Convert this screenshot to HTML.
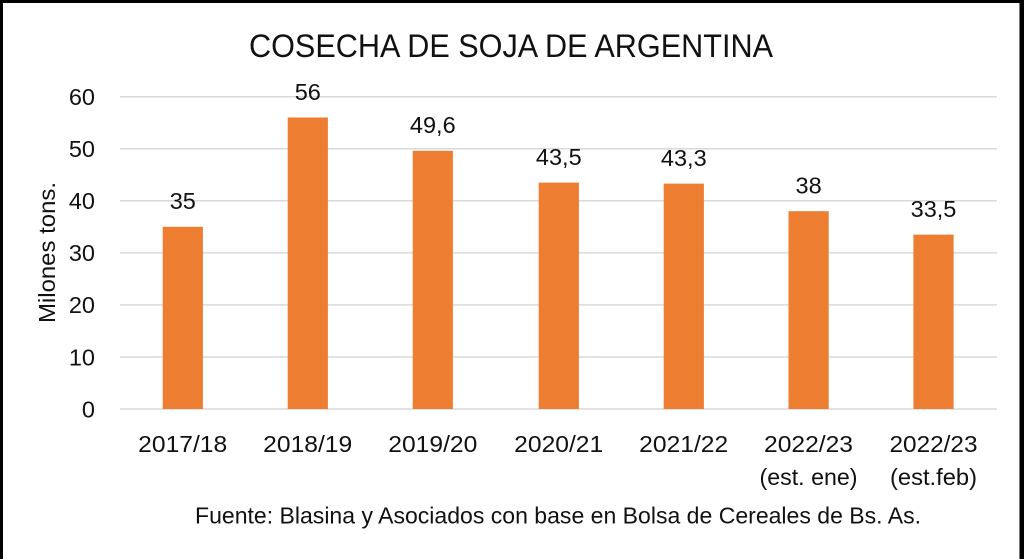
<!DOCTYPE html>
<html>
<head>
<meta charset="utf-8">
<style>
  html, body { margin: 0; padding: 0; background: #fff; }
  body { width: 1024px; height: 559px; overflow: hidden; }
  svg { display: block; }
  text { font-family: "Liberation Sans", Arial, sans-serif; fill: #111; }
</style>
</head>
<body>
<svg width="1024" height="559" viewBox="0 0 1024 559" xmlns="http://www.w3.org/2000/svg">
  <rect x="0" y="0" width="1024" height="559" fill="#fff"/>
  <!-- border -->
  <rect x="0" y="0" width="1024" height="3" fill="#000"/>
  <rect x="0" y="0" width="3" height="559" fill="#000"/>
  <rect x="1020" y="0" width="4" height="559" fill="#000"/>
  <rect x="1019" y="3" width="1" height="556" fill="#777"/>

  <!-- title -->
  <text x="511" y="57" font-size="32" text-anchor="middle" textLength="524" lengthAdjust="spacingAndGlyphs">COSECHA DE SOJA DE ARGENTINA</text>

  <!-- gridlines -->
  <g stroke="#d9d9d9" stroke-width="1.5">
    <line x1="120" y1="96.7" x2="997" y2="96.7"/>
    <line x1="120" y1="148.8" x2="997" y2="148.8"/>
    <line x1="120" y1="200.8" x2="997" y2="200.8"/>
    <line x1="120" y1="252.9" x2="997" y2="252.9"/>
    <line x1="120" y1="304.9" x2="997" y2="304.9"/>
    <line x1="120" y1="357" x2="997" y2="357"/>
    <line x1="120" y1="409" x2="997" y2="409"/>
  </g>

  <!-- y tick labels -->
  <g font-size="23.5" text-anchor="end">
    <text x="95" y="105">60</text>
    <text x="95" y="157.1">50</text>
    <text x="95" y="209.1">40</text>
    <text x="95" y="261.2">30</text>
    <text x="95" y="313.2">20</text>
    <text x="95" y="365.3">10</text>
    <text x="95" y="417.3">0</text>
  </g>

  <!-- y axis title -->
  <text transform="translate(55,252.5) rotate(-90)" font-size="23" text-anchor="middle" textLength="141" lengthAdjust="spacingAndGlyphs">Milones tons.</text>

  <!-- bars -->
  <g fill="#ED7D31">
    <rect x="162.7" y="226.8" width="40.2" height="182.2"/>
    <rect x="287.7" y="117.5" width="40.2" height="291.5"/>
    <rect x="412.7" y="150.8" width="40.2" height="258.2"/>
    <rect x="538.7" y="182.6" width="40.2" height="226.4"/>
    <rect x="663.7" y="183.6" width="40.2" height="225.4"/>
    <rect x="788.5" y="211.2" width="40.2" height="197.8"/>
    <rect x="913.4" y="234.6" width="40.2" height="174.4"/>
  </g>

  <!-- data labels -->
  <g font-size="23.5" text-anchor="middle">
    <text x="182.8" y="209">35</text>
    <text x="307.8" y="100">56</text>
    <text x="432.8" y="133">49,6</text>
    <text x="558.8" y="165">43,5</text>
    <text x="683.8" y="166">43,3</text>
    <text x="808.6" y="193.5">38</text>
    <text x="933.5" y="217">33,5</text>
  </g>

  <!-- x labels -->
  <g font-size="23" text-anchor="middle">
    <text x="182.7" y="452" textLength="89" lengthAdjust="spacingAndGlyphs">2017/18</text>
    <text x="307.7" y="452" textLength="89" lengthAdjust="spacingAndGlyphs">2018/19</text>
    <text x="432.8" y="452" textLength="89" lengthAdjust="spacingAndGlyphs">2019/20</text>
    <text x="558.7" y="452" textLength="89" lengthAdjust="spacingAndGlyphs">2020/21</text>
    <text x="683.7" y="452" textLength="89" lengthAdjust="spacingAndGlyphs">2021/22</text>
    <text x="808.5" y="452" textLength="89" lengthAdjust="spacingAndGlyphs">2022/23</text>
    <text x="808.5" y="485" textLength="98" lengthAdjust="spacingAndGlyphs">(est. ene)</text>
    <text x="933.5" y="452" textLength="88" lengthAdjust="spacingAndGlyphs">2022/23</text>
    <text x="933.5" y="485" textLength="87" lengthAdjust="spacingAndGlyphs">(est.feb)</text>
  </g>

  <!-- footer -->
  <text x="195" y="523.5" font-size="23" textLength="726" lengthAdjust="spacingAndGlyphs">Fuente: Blasina y Asociados con base en Bolsa de Cereales de Bs. As.</text>
</svg>
</body>
</html>
